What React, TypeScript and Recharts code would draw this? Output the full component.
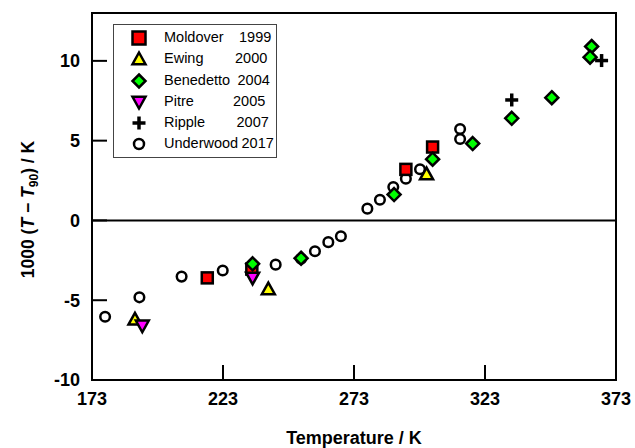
import React from 'react';
import { ScatterChart, Scatter, XAxis, YAxis, ReferenceLine, ReferenceArea, Legend, Label } from 'recharts';

const xTicks = [173, 223, 273, 323, 373];
const yTicks = [-10, -5, 0, 5, 10];

// temperature (K) and 1000 (T - T90) (K) per source
const moldoverT = [217.0, 234.0, 292.8, 303.0];
const moldoverD = [-3.6, -3.05, 3.2, 4.6];
const ewingT = [189.4, 240.3, 300.7];
const ewingD = [-6.2, -4.3, 2.9];
const benedettoT = [234.3, 252.8, 288.3, 303.0, 318.3, 333.2, 348.5, 363.7, 363.1];
const benedettoD = [-2.72, -2.37, 1.62, 3.84, 4.82, 6.4, 7.69, 10.9, 10.23];
const pitreT = [192.2, 234.3];
const pitreD = [-6.6, -3.6];
const rippleT = [333.2, 367.5];
const rippleD = [7.55, 10.02];
const underwoodT = [178.0, 191.1, 207.2, 222.9, 243.1, 252.8, 258.1, 263.2, 268.0, 278.1, 282.9, 288.0, 292.8, 298.2, 313.5, 313.5];
const underwoodD = [-6.04, -4.82, -3.52, -3.14, -2.77, -2.4, -1.93, -1.36, -0.99, 0.74, 1.3, 2.09, 2.62, 3.21, 5.73, 5.1];

const legendNames = ['Moldover', 'Ewing', 'Benedetto', 'Pitre', 'Ripple', 'Underwood'];
const legendYears = ['1999', '2000', '2004', '2005', '2007', '2017'];

const pts = (xs: number[], ys: number[]) => xs.map((x, i) => ({ x, y: ys[i] }));

const FONT = '"Liberation Sans", Arial, sans-serif';

const Square = ({ cx, cy, s = 5.5 }: any) => (
  <rect x={cx - s} y={cy - s} width={2 * s} height={2 * s} fill="#ff0000" stroke="#000" strokeWidth={2.5} />
);
const Triangle = ({ cx, cy, s = 6.5 }: any) => (
  <polygon points={`${cx},${cy - s} ${cx + s},${cy + s * 0.8} ${cx - s},${cy + s * 0.8}`} fill="#ffff00" stroke="#000" strokeWidth={2.5} />
);
const Diamond = ({ cx, cy, s = 6.5 }: any) => (
  <polygon points={`${cx},${cy - s} ${cx + s},${cy} ${cx},${cy + s} ${cx - s},${cy}`} fill="#00ff00" stroke="#000" strokeWidth={2.5} />
);
const InvTriangle = ({ cx, cy, s = 6.5 }: any) => (
  <polygon points={`${cx - s},${cy - s * 0.8} ${cx + s},${cy - s * 0.8} ${cx},${cy + s}`} fill="#ff00ff" stroke="#000" strokeWidth={2.5} />
);
const Plus = ({ cx, cy, s = 6.5 }: any) => (
  <g stroke="#000" strokeWidth={3.5}>
    <line x1={cx - s} y1={cy} x2={cx + s} y2={cy} />
    <line x1={cx} y1={cy - s} x2={cx} y2={cy + s} />
  </g>
);
const Ring = ({ cx, cy, s = 4.8 }: any) => (
  <circle cx={cx} cy={cy} r={s} fill="#fff" stroke="#000" strokeWidth={2.5} />
);

const legendShapes = [Square, Triangle, Diamond, InvTriangle, Plus, Ring];
const yearLeft = [125, 121, 123.5, 119, 122.5, 127.5];

const LegendBox = () => (
  <div style={{ width: 164, height: 134, border: '1px solid #444', boxSizing: 'border-box', background: '#fff', fontFamily: FONT, fontSize: 14.5, color: '#000', paddingTop: 3 }}>
    {legendNames.map((name, i) => {
      const Shape = legendShapes[i];
      return (
        <div key={name} style={{ position: 'relative', height: 21.3 }}>
          <svg width={20} height={20} style={{ position: 'absolute', left: 15, top: 0 }}>
            <Shape cx={10} cy={10} s={i === 5 ? 5 : 6.5} />
          </svg>
          <span style={{ position: 'absolute', left: 50, top: 1 }}>{name}</span>
          <span style={{ position: 'absolute', left: yearLeft[i], top: 1 }}>{legendYears[i]}</span>
        </div>
      );
    })}
  </div>
);

const YTitle = ({ viewBox }: any) => {
  const cx = viewBox.x + 34;
  const cy = viewBox.y + viewBox.height / 2 + 13;
  return (
    <text transform={`translate(${cx},${cy}) rotate(-90)`} textAnchor="middle" fontFamily={FONT} fontWeight="bold" fontSize={17.5} fill="#000">
      1000 (<tspan fontStyle="italic">T</tspan> − <tspan fontStyle="italic">T</tspan>
      <tspan fontSize={12} dy={4}>90</tspan>
      <tspan dy={-4}>) / K</tspan>
    </text>
  );
};

const XTitle = ({ viewBox }: any) => (
  <text x={viewBox.x + viewBox.width / 2} y={viewBox.y + 64} textAnchor="middle" fontFamily={FONT} fontWeight="bold" fontSize={18} fill="#000">
    Temperature / K
  </text>
);

const tickStyle = { fill: '#000', fontSize: 18, fontWeight: 'bold', fontFamily: FONT };
const lineStyle = { stroke: '#000', strokeWidth: 2 };

export default function App() {
  return (
    <div style={{ position: 'absolute', left: 0, top: 0, background: '#fff' }}>
      <ScatterChart width={635} height={448} margin={{ top: 13, right: 19, bottom: 0, left: 0 }}>
        <XAxis type="number" dataKey="x" domain={[173, 373]} ticks={xTicks} allowDataOverflow height={68}
          axisLine={lineStyle} tickLine={lineStyle} tickSize={-15} tickMargin={27} tick={tickStyle}>
          <Label content={XTitle} />
        </XAxis>
        <YAxis type="number" dataKey="y" domain={[-10, 13]} ticks={yTicks} allowDataOverflow width={92}
          axisLine={lineStyle} tickLine={lineStyle} tickSize={-15} tickMargin={27} tick={tickStyle}>
          <Label content={YTitle} />
        </YAxis>
        <ReferenceArea x1={173} x2={373} y1={-10} y2={13} fill="none" fillOpacity={0} stroke="#000" strokeWidth={2} />
        <ReferenceLine y={0} stroke="#000" strokeWidth={2} />
        <Legend layout="vertical" align="center" verticalAlign="middle" content={LegendBox}
          wrapperStyle={{ left: 113, top: 24, width: 164, height: 134 }} />
        <Scatter name="Underwood 2017" data={pts(underwoodT, underwoodD)} shape={Ring} isAnimationActive={false} />
        <Scatter name="Moldover 1999" data={pts(moldoverT, moldoverD)} shape={Square} isAnimationActive={false} />
        <Scatter name="Ewing 2000" data={pts(ewingT, ewingD)} shape={Triangle} isAnimationActive={false} />
        <Scatter name="Benedetto 2004" data={pts(benedettoT, benedettoD)} shape={Diamond} isAnimationActive={false} />
        <Scatter name="Pitre 2005" data={pts(pitreT, pitreD)} shape={InvTriangle} isAnimationActive={false} />
        <Scatter name="Ripple 2007" data={pts(rippleT, rippleD)} shape={Plus} isAnimationActive={false} />
      </ScatterChart>
    </div>
  );
}
